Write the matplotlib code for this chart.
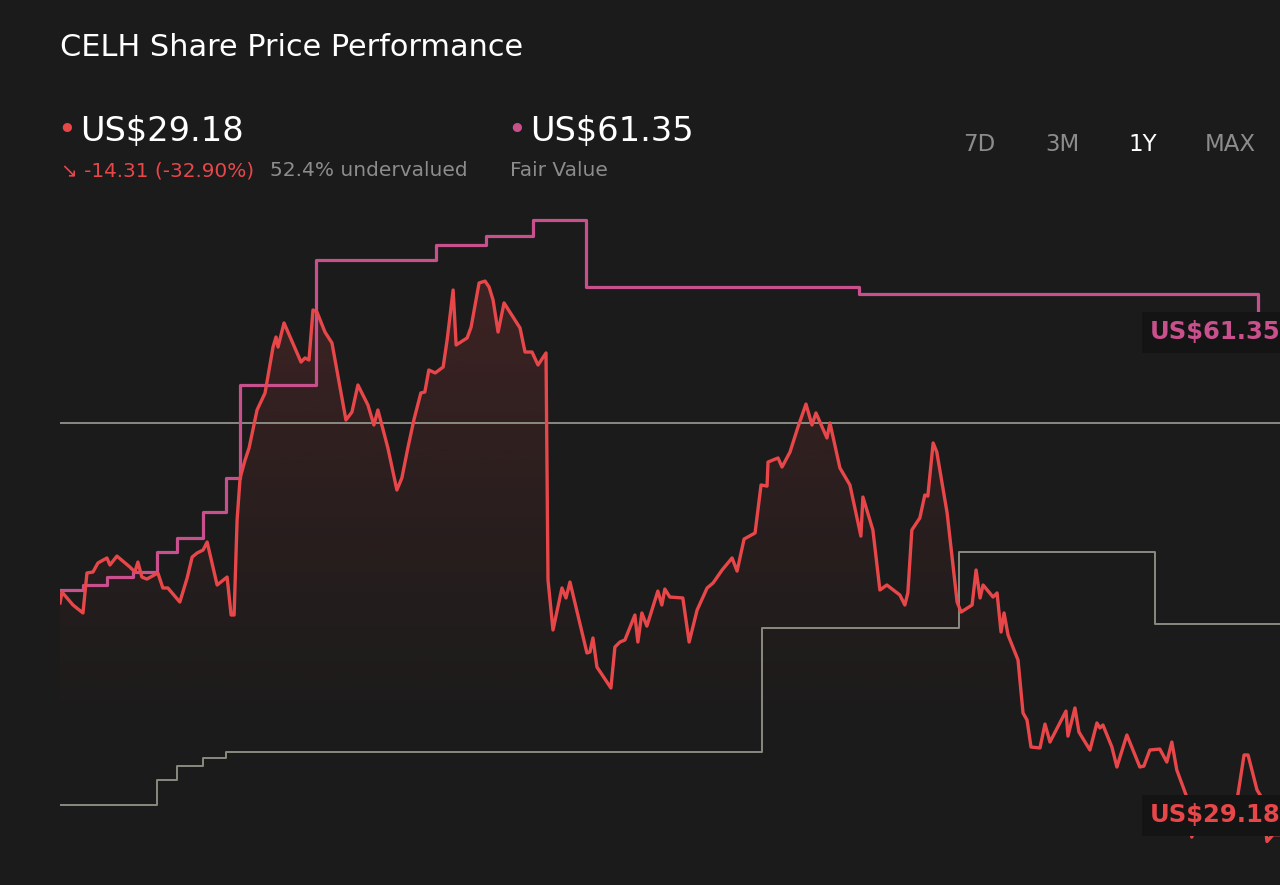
import numpy as np
import matplotlib
matplotlib.use("Agg")
import matplotlib.pyplot as plt
from matplotlib.patches import Polygon

# dados (dias desde o inicio, precos em US$)
price_days = [0, 0.6, 3.9, 6.9, 8.1, 9.9, 11.4, 14.1, 15.0, 17.1, 21.0, 22.5, 23.4, 24.6, 26.1,
              29.4, 30.9, 32.4, 36.0, 38.2, 39.7, 41.2, 43.0, 44.2, 47.2, 50.2, 51.4, 52.3, 53.2,
              54.1, 55.6, 56.8, 59.2, 61.6, 64.0, 64.9, 65.5, 67.3, 72.4, 73.6, 74.8, 76.0, 77.2,
              79.6, 81.7, 85.9, 87.7, 89.5, 92.5, 94.3, 95.5, 98.5, 101.2, 102.7, 104.5, 106.3,
              108.4, 109.6, 110.8, 112.7, 115.1, 116.3, 118.1, 119.0, 122.3, 123.5, 125.9, 127.7,
              128.9, 130.1, 131.6, 133.4, 138.2, 139.7, 141.8, 143.6, 146.0, 146.6, 148.1, 150.8,
              152.0, 153.2, 158.3, 159.2, 160.1, 161.3, 165.5, 166.7, 168.2, 169.7, 172.7, 173.6,
              174.8, 176.3, 179.6, 180.8, 181.7, 183.2, 187.1, 189.0, 191.4, 194.4, 196.2, 198.9,
              201.9, 203.4, 205.5, 208.8, 210.6, 212.4, 212.7, 215.7, 216.9, 219.3, 221.7, 224.1,
              225.9, 227.1, 230.4, 231.3, 234.3, 237.3, 240.6, 241.2, 244.2, 246.3, 248.4, 252.3,
              253.8, 254.7, 255.9, 258.3, 259.8, 260.7, 262.3, 263.4, 266.5, 269.5, 270.7, 274.0,
              275.2, 276.4, 277.3, 280.3, 281.5, 282.7, 283.6, 284.8, 287.8, 289.3, 290.5, 291.7,
              294.4, 295.9, 297.4, 302.2, 302.8, 304.9, 306.1, 309.4, 311.5, 312.4, 313.3, 316.0,
              317.5, 320.5, 324.4, 325.6, 327.4, 330.4, 332.5, 334.0, 335.5, 338.5, 340.0, 342.5,
              347.0, 350.9, 353.6, 355.7, 356.9, 359.6, 361.1, 362.6, 364.4, 366.5]
price = [44.01, 44.71, 43.88, 43.37, 45.93, 45.99, 46.57, 46.89, 46.44, 47.01, 46.31, 45.99, 46.63,
         45.67, 45.54, 45.93, 44.97, 44.97, 44.07, 45.61, 46.95, 47.21, 47.40, 47.91, 45.16, 45.67,
         43.24, 43.24, 49.32, 52.01, 53.16, 53.93, 56.36, 57.45, 60.39, 61.03, 60.39, 61.93, 59.43,
         59.69, 59.56, 62.76, 62.63, 61.35, 60.65, 55.72, 56.23, 57.96, 56.68, 55.40, 56.36, 53.93,
         51.24, 52.01, 53.93, 55.72, 57.45, 57.51, 58.92, 58.73, 59.11, 60.84, 64.04, 60.52, 60.97,
         61.67, 64.49, 64.61, 64.23, 63.40, 61.35, 63.21, 61.61, 60.07, 60.07, 59.24, 60.01, 45.48,
         42.28, 44.97, 44.33, 45.35, 40.81, 40.87, 41.77, 39.91, 38.57, 41.19, 41.51, 41.64, 43.24,
         41.51, 43.37, 42.53, 44.77, 43.88, 44.90, 44.39, 44.33, 41.51, 43.56, 44.97, 45.29, 46.12,
         46.89, 46.05, 48.10, 48.49, 51.56, 51.49, 53.03, 53.29, 52.71, 53.67, 55.27, 56.74, 55.40,
         56.17, 54.57, 55.53, 52.65, 51.56, 48.29, 50.79, 48.68, 44.84, 45.16, 44.52, 43.88, 44.65,
         48.68, 49.45, 50.92, 50.85, 54.25, 53.67, 49.77, 44.07, 43.43, 43.88, 46.12, 44.33, 45.16,
         44.39, 44.65, 42.15, 43.37, 41.96, 40.36, 36.97, 36.52, 34.79, 34.73, 36.26, 35.11, 37.09,
         35.49, 37.29, 35.75, 34.60, 36.33, 36.01, 36.20, 34.79, 33.51, 35.56, 33.51, 33.57, 34.60,
         34.66, 33.83, 35.11, 33.32, 31.59, 29.03, 30.63, 30.25, 30.89, 31.40, 34.28, 34.28, 32.04,
         31.53, 28.75, 29.18, 29.18]

fv_days = [0, 7, 14, 22, 29, 35, 43, 50, 54, 77, 113, 128, 142, 158, 240, 360, 366.5]
fair_value = [44.84, 45.16, 45.67, 45.99, 47.27, 48.17, 49.83, 52.01, 57.96, 65.96, 66.92, 67.49,
              68.52, 64.23, 63.78, 61.35, 61.35]

grey_days = [0, 29, 35, 43, 50, 211, 270, 329, 366.5]
grey_low = [31.08, 32.68, 33.57, 34.09, 34.47, 42.41, 47.27, 42.66, 42.66]
ref_level = 55.53
fill_base = 34.47

bg = '#1b1b1b'
red = '#e8474a'
pink = '#c8508c'
grey = '#8a8a80'

fig = plt.figure(figsize=(12.8, 8.85), dpi=100, facecolor=bg)
ymin, ymax = 25.96, 69.80
ax = fig.add_axes([60/1280, 0, 1220/1280, 685/885])
ax.set_xlim(0, 366.5)
ax.set_ylim(ymin, ymax)
ax.set_axis_off()

# preenchimento em gradiente sob a linha de preco
verts = list(zip(price_days, price)) + [(price_days[-1], fill_base), (price_days[0], fill_base)]
poly = Polygon(verts, closed=True, facecolor='none', edgecolor='none')
ax.add_patch(poly)
rgba = np.zeros((256, 1, 4))
rgba[..., :3] = matplotlib.colors.to_rgb(red)
rgba[..., 3] = np.linspace(0.2, 0.0, 256).reshape(-1, 1) ** 1.2 / 0.2 ** 0.2
im = ax.imshow(rgba, extent=[0, 366.5, fill_base, 68.5], aspect='auto', origin='upper', zorder=1)
im.set_clip_path(poly)

ax.axhline(ref_level, color=grey, lw=1.4, zorder=2)
ax.plot(grey_days, grey_low, drawstyle='steps-post', color=grey, lw=1.4, zorder=2)
ax.plot(fv_days, fair_value, drawstyle='steps-post', color=pink, lw=2.3, zorder=3)
ax.plot(price_days, price, color=red, lw=2.4, zorder=4)

ax.annotate('US$61.35', xy=(327.5, fair_value[-1]), color=pink, fontsize=17.5, fontweight='bold',
            va='center', ha='left', zorder=6, annotation_clip=False,
            bbox=dict(boxstyle='square,pad=0.35', facecolor='#141414', edgecolor='none'))
ax.annotate('US$29.18', xy=(327.5, price[-1]), xytext=(0, 14), textcoords='offset points',
            color=red, fontsize=17.5, fontweight='bold', va='center', ha='left', zorder=6,
            annotation_clip=False,
            bbox=dict(boxstyle='square,pad=0.35', facecolor='#141414', edgecolor='none'))

def fx(x):
    return x / 1280

def fy(y):
    return 1 - y / 885

fig.text(fx(60), fy(47), 'CELH Share Price Performance', color='white', fontsize=21.9, va='center')
fig.text(fx(57), fy(130), '•', color=red, fontsize=23, va='center')
fig.text(fx(80), fy(131), 'US$29.18', color='white', fontsize=24.2, va='center')
fig.text(fx(507), fy(130), '•', color=pink, fontsize=23, va='center')
fig.text(fx(530), fy(131), 'US$61.35', color='white', fontsize=24.2, va='center')
fig.text(fx(61), fy(171), '↘ -14.31 (-32.90%)', color=red, fontsize=14.4, va='center')
fig.text(fx(270), fy(171), '52.4% undervalued', color='#8c8c8c', fontsize=14.5, va='center')
fig.text(fx(510), fy(171), 'Fair Value', color='#8c8c8c', fontsize=14.5, va='center')

ranges = ['7D', '3M', '1Y', 'MAX']
range_x = [963, 1045, 1128, 1205]
for lab, x in zip(ranges, range_x):
    col = 'white' if lab == '1Y' else '#8c8c8c'
    fig.text(fx(x), fy(145), lab, color=col, fontsize=16.5, va='center')

fig.savefig('out.png', dpi=100, facecolor=bg)
